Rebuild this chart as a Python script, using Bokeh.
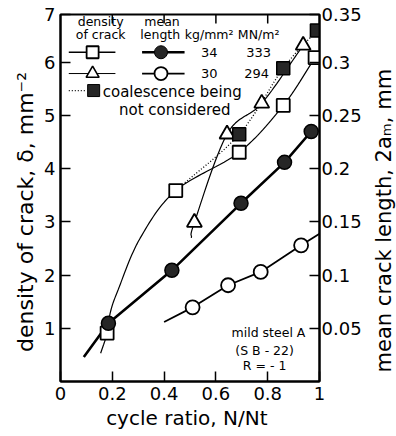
import numpy as np
from bokeh.plotting import figure
from bokeh.layouts import row
from bokeh.models import Range1d, LinearAxis, FixedTicker
from bokeh.core.properties import value
from bokeh.embed import file_html
from bokeh.resources import INLINE

# ---------------- data ----------------
# density of crack (left axis, 1/mm^2)
sq_x = [0.18, 0.445, 0.69, 0.86, 0.983]          # open squares, 34 kg/mm^2
sq_y = [0.91, 3.59, 4.31, 5.19, 6.09]
tri_x = [0.517, 0.643, 0.777, 0.937]              # triangles, 30 kg/mm^2
tri_y = [2.99, 4.65, 5.23, 6.32]
coal_x = [0.69, 0.86, 0.99]                       # filled squares (coalescence not considered)
coal_y = [4.65, 5.89, 6.60]
# mean crack length (right axis, mm)
fc_x = [0.185, 0.43, 0.697, 0.865, 0.968]         # filled circles, 34 kg/mm^2
fc_y = [0.0547, 0.1045, 0.1675, 0.206, 0.235]
oc_x = [0.51, 0.647, 0.773, 0.929]                # open circles, 30 kg/mm^2
oc_y = [0.0697, 0.0905, 0.103, 0.128]

# hand-drawn fitted curves
sq_curve_x = [0.155, 0.18, 0.193, 0.223, 0.307, 0.445, 0.69, 0.86, 0.983]
sq_curve_y = [0.53, 0.91, 1.31, 1.73, 2.69, 3.59, 4.31, 5.19, 6.09]
tri_curve_x = [0.505, 0.517, 0.643, 0.777, 0.937]
tri_curve_y = [2.70, 2.99, 4.65, 5.23, 6.32]
coal_curve_x = [0.445, 0.69, 0.86, 0.99]
coal_curve_y = [3.59, 4.65, 5.89, 6.60]
fc_line_x = [0.09, 0.185, 0.43, 0.697, 0.865, 0.968]
fc_line_y = [0.023, 0.0547, 0.1045, 0.1675, 0.206, 0.235]
oc_line_x = [0.40, 0.51, 0.647, 0.773, 0.929, 1.0]
oc_line_y = [0.056, 0.0697, 0.0905, 0.103, 0.128, 0.139]

x_ticks = [0, 0.2, 0.4, 0.6, 0.8, 1]
x_labels = ["0", "0.2", "0.4", "0.6", "0.8", "1"]
top_ticks = [0.2, 0.4, 0.6, 0.8]
yl_ticks = [1, 2, 3, 4, 5, 6, 6.9]
yl_labels = ["1", "2", "3", "4", "5", "6", "7"]
yr_ticks = [0.05, 0.1, 0.15, 0.2, 0.25, 0.3, 0.345]
yr_labels = ["0.05", "0.1", "0.15", "0.2", "0.25", "0.3", "0.35"]

legend_stress = ["34", "30"]
legend_mn = ["333", "294"]


def smooth(xs, ys, n=16):
    """Catmull-Rom curve through the given points."""
    P = np.column_stack([xs, ys]).astype(float)
    P = np.vstack([2 * P[0] - P[1], P, 2 * P[-1] - P[-2]])
    out = []
    t = np.linspace(0, 1, n, endpoint=False)[:, None]
    for i in range(1, len(P) - 2):
        p0, p1, p2_, p3 = P[i - 1], P[i], P[i + 1], P[i + 2]
        seg = 0.5 * ((2 * p1) + (-p0 + p2_) * t + (2 * p0 - 5 * p1 + 4 * p2_ - p3) * t ** 2
                     + (-p0 + 3 * p1 - 3 * p2_ + p3) * t ** 3)
        out.append(seg)
    out.append(P[-2][None, :])
    out = np.vstack(out)
    return out[:, 0], out[:, 1]


FONT = "DejaVu Sans"
K = "black"
Y_TOP = 6.9
B_TOP, B_BOT = 14, 55

p = figure(width=364, height=436, output_backend="svg", toolbar_location=None,
           x_range=Range1d(0, 1), y_range=Range1d(0, Y_TOP),
           min_border_left=60, min_border_right=42, min_border_top=B_TOP, min_border_bottom=B_BOT)
p.extra_y_ranges = {"r": Range1d(0, 0.345)}
p.grid.visible = False
p.outline_line_color = K
p.outline_line_width = 2
p.background_fill_color = "white"
p.border_fill_color = "white"

xa = p.xaxis[0]
xa.ticker = FixedTicker(ticks=x_ticks)
xa.major_label_overrides = dict(zip(x_ticks, x_labels))
xa.axis_label = "cycle  ratio, N/Nt"
ya = p.yaxis[0]
ya.ticker = FixedTicker(ticks=yl_ticks)
ya.major_label_overrides = dict(zip(yl_ticks, yl_labels))
ya.axis_label = "density   of   crack, δ, mm⁻²"

ra = LinearAxis(y_range_name="r", ticker=FixedTicker(ticks=yr_ticks))
ra.major_label_overrides = dict(zip(yr_ticks, yr_labels))
p.add_layout(ra, "right")

for ax in [xa, ya, ra]:
    ax.major_tick_in = 10
    ax.major_tick_out = 0
    ax.minor_tick_in = 0
    ax.minor_tick_out = 0
    ax.axis_line_width = 2
    ax.axis_line_color = K
    ax.major_tick_line_width = 1.5
    ax.major_tick_line_color = K
    ax.major_label_text_font = FONT
    ax.major_label_text_color = K
    ax.major_label_text_font_size = "18px"
    ax.axis_label_text_font = FONT
    ax.axis_label_text_font_style = "normal"
    ax.axis_label_text_color = K
xa.axis_label_text_font_size = "20px"
ya.axis_label_text_font_size = "22px"
xa.major_label_standoff = 5
ya.major_label_standoff = 5
ra.major_label_standoff = 2
xa.axis_label_standoff = 3
ya.axis_label_standoff = 3

# inward ticks on the top edge of the frame
p.segment(x0=top_ticks, y0=[Y_TOP] * len(top_ticks), x1=top_ticks,
          y1=[Y_TOP - 0.17] * len(top_ticks), line_color=K, line_width=1.5)

# ---------------- curves ----------------
cx, cy = smooth(sq_curve_x, sq_curve_y)
p.line(cx, cy, line_color=K, line_width=1.2)
cx, cy = smooth(tri_curve_x, tri_curve_y)
p.line(cx, cy, line_color=K, line_width=1.2)
cx, cy = smooth(coal_curve_x, coal_curve_y)
p.line(cx, cy, line_color=K, line_width=1.3, line_dash="1 2")
p.line(fc_line_x, fc_line_y, y_range_name="r", line_color=K, line_width=2.6)
p.line(oc_line_x, oc_line_y, y_range_name="r", line_color=K, line_width=1.8)

# ---------------- markers ----------------
p.scatter(sq_x, sq_y, marker="square", size=13, fill_color="white", line_color=K, line_width=1.8)
p.scatter(tri_x, tri_y, marker="triangle", size=15, fill_color="white", line_color=K, line_width=1.8)
p.scatter(coal_x, coal_y, marker="square", size=13, fill_color="#262626", line_color=K, line_width=1.5)
p.scatter(fc_x, fc_y, y_range_name="r", marker="circle", size=14, fill_color="#262626",
          line_color=K, line_width=1.5)
p.scatter(oc_x, oc_y, y_range_name="r", marker="circle", size=14, fill_color="white",
          line_color=K, line_width=1.8)

# ---------------- legend (drawn inside the frame) ----------------
lx_den, lx_len = 0.124, 0.388
ly = [6.19, 5.79, 5.47]
seg_d = (0.032, 0.212)
seg_l = (0.315, 0.479)
p.line([seg_d[0], seg_d[1]], [ly[0], ly[0]], line_color=K, line_width=1.3)
p.scatter([lx_den], [ly[0]], marker="square", size=12, fill_color="white", line_color=K, line_width=1.8)
p.line([seg_l[0], seg_l[1]], [ly[0], ly[0]], line_color=K, line_width=2.4)
p.scatter([lx_len], [ly[0]], marker="circle", size=13, fill_color="#262626", line_color=K)
p.line([seg_d[0], seg_d[1]], [ly[1], ly[1]], line_color=K, line_width=1.0)
p.scatter([lx_den], [ly[1]], marker="triangle", size=13, fill_color="white", line_color=K, line_width=1.6)
p.line([seg_l[0], seg_l[1]], [ly[1], ly[1]], line_color=K, line_width=1.8)
p.scatter([lx_len], [ly[1]], marker="circle", size=13, fill_color="white", line_color=K, line_width=1.8)
p.line([0.032, 0.1], [ly[2], ly[2]], line_color=K, line_width=1.3, line_dash="1 2")
p.scatter([0.128], [ly[2]], marker="square", size=12, fill_color="#262626", line_color=K)

hdr = dict(text_font=value(FONT), text_color=K, text_align="center", text_baseline="middle")
p.text([0.155, 0.155, 0.392, 0.385], [6.76, 6.52, 6.76, 6.52],
       text=["density", "of crack", "mean", "length"], text_font_size="12.5px", **hdr)
p.text([0.574, 0.765], [6.52, 6.52], text=["kg/mm²", "MN/m²"], text_font_size="12.5px", **hdr)
p.text([0.574, 0.574], ly[:2], text=legend_stress, text_font_size="13px", **hdr)
p.text([0.765, 0.757], ly[:2], text=legend_mn, text_font_size="13px", **hdr)
p.text([0.163, 0.226], [5.44, 5.10], text=["coalescence being", "not considered"],
       text_font_size="15px", text_font=value(FONT), text_color=K, text_align="left",
       text_baseline="middle")

# specimen note
p.text([0.803, 0.788, 0.788], [0.92, 0.59, 0.3],
       text=["mild steel A", "(S B - 22)", "R = - 1"], text_font_size="12.5px", **hdr)

# narrow strip to the right that carries the right-hand axis title (reads bottom to top)
p2 = figure(width=32, height=436, output_backend="svg", toolbar_location=None,
            x_range=Range1d(0, 1), y_range=Range1d(0, Y_TOP),
            x_axis_location=None, y_axis_location=None,
            min_border_left=0, min_border_right=0, min_border_top=B_TOP, min_border_bottom=B_BOT)
p2.grid.visible = False
p2.outline_line_color = None
p2.background_fill_color = "white"
p2.border_fill_color = "white"
p2.text([0.6], [3.15], text=["mean  crack  length, 2aₘ, mm"], angle=np.pi / 2,
        text_font_size="21px", **hdr)

open("out.html", "w").write(file_html(row(p, p2), INLINE))
